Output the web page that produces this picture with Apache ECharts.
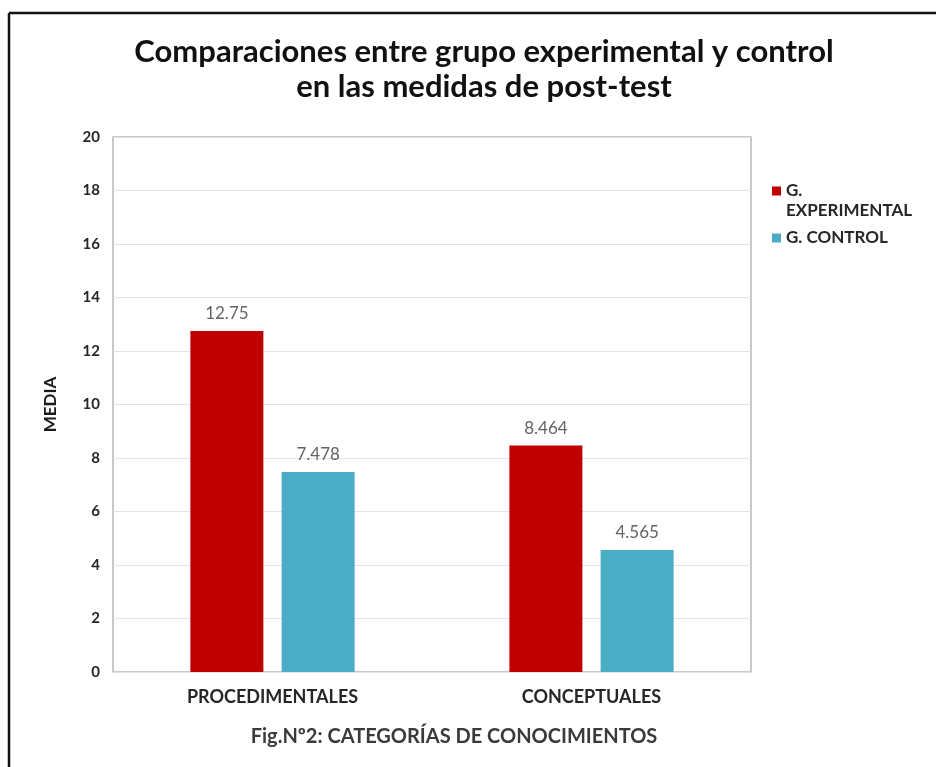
<!DOCTYPE html>
<html>
<head>
<meta charset="utf-8">
<script src="https://cdn.jsdelivr.net/npm/echarts@6/dist/echarts.min.js"></script>
<style>
html,body{margin:0;padding:0;background:#fff;}
#chart{width:936px;height:767px;}
</style>
</head>
<body>
<div id="chart"></div>
<script>
const categories = ['PROCEDIMENTALES', 'CONCEPTUALES'];
const experimentalValues = [12.75, 8.464];
const controlValues = [7.478, 4.565];
const seriesNames = ['G. EXPERIMENTAL', 'G. CONTROL'];
const yTicks = [0, 2, 4, 6, 8, 10, 12, 14, 16, 18, 20];

const FONT = 'Lato, "Open Sans", sans-serif';
const chart = echarts.init(document.getElementById('chart'));
const labelStyle = {
  show: true,
  position: 'top',
  distance: 9,
  color: '#646464',
  fontSize: 17,
  fontFamily: FONT,
  formatter: p => String(p.value)
};
chart.setOption({
  backgroundColor: '#fff',
  title: {
    text: 'Comparaciones entre grupo experimental y control\nen las medidas de post-test',
    left: 479,
    textAlign: 'center',
    top: 29,
    textStyle: {
      fontFamily: FONT,
      fontWeight: 'bold',
      fontSize: 31,
      lineHeight: 35,
      color: '#111'
    }
  },
  graphic: [
    { type: 'line', shape: { x1: 9, y1: 13, x2: 936, y2: 13 }, style: { stroke: '#111', lineWidth: 2.5 } },
    { type: 'line', shape: { x1: 9, y1: 13, x2: 9, y2: 767 }, style: { stroke: '#111', lineWidth: 2.5 } }
  ],
  legend: {
    orient: 'vertical',
    left: 767,
    top: 156,
    itemWidth: 9,
    itemHeight: 9,
    itemGap: 7,
    icon: 'rect',
    data: seriesNames,
    formatter: n => n === 'G. EXPERIMENTAL' ? ' \nG.\nEXPERIMENTAL' : n,
    textStyle: {
      fontFamily: FONT,
      fontWeight: 'bold',
      fontSize: 17,
      lineHeight: 20,
      color: '#262626'
    }
  },
  grid: {
    left: 113,
    right: 185,
    top: 137,
    bottom: 95,
    show: true,
    borderColor: '#b8b8b8',
    borderWidth: 1.5,
    containLabel: false
  },
  xAxis: {
    type: 'category',
    data: categories,
    name: 'Fig.Nº2: CATEGORÍAS DE CONOCIMIENTOS',
    nameLocation: 'middle',
    nameGap: 55,
    nameTextStyle: {
      fontFamily: FONT,
      fontWeight: 'bold',
      fontSize: 20,
      color: '#3a3a3a',
      padding: [0, 0, 0, 44]
    },
    axisLine: { show: false },
    axisTick: { show: false },
    axisLabel: {
      margin: 16,
      fontFamily: FONT,
      fontWeight: 'bold',
      fontSize: 18,
      color: '#262626'
    }
  },
  yAxis: {
    type: 'value',
    min: 0,
    max: 20,
    interval: 2,
    name: 'MEDIA',
    nameLocation: 'middle',
    nameRotate: 90,
    nameGap: 54,
    nameTextStyle: {
      fontFamily: FONT,
      fontWeight: 'bold',
      fontSize: 17,
      color: '#1a1a1a'
    },
    axisLine: { show: false },
    axisTick: { show: false },
    splitLine: { lineStyle: { color: '#e4e4e4', width: 1 } },
    axisLabel: {
      margin: 13,
      fontFamily: FONT,
      fontWeight: 'bold',
      fontSize: 15,
      color: '#262626',
      formatter: v => yTicks.includes(v) ? String(v) : ''
    }
  },
  series: [
    {
      name: seriesNames[0],
      type: 'bar',
      data: experimentalValues,
      barWidth: 73,
      barGap: '25%',
      itemStyle: { color: '#C00000' },
      label: labelStyle
    },
    {
      name: seriesNames[1],
      type: 'bar',
      data: controlValues,
      barWidth: 73,
      itemStyle: { color: '#4BACC6' },
      label: labelStyle
    }
  ]
});
</script>
</body>
</html>
